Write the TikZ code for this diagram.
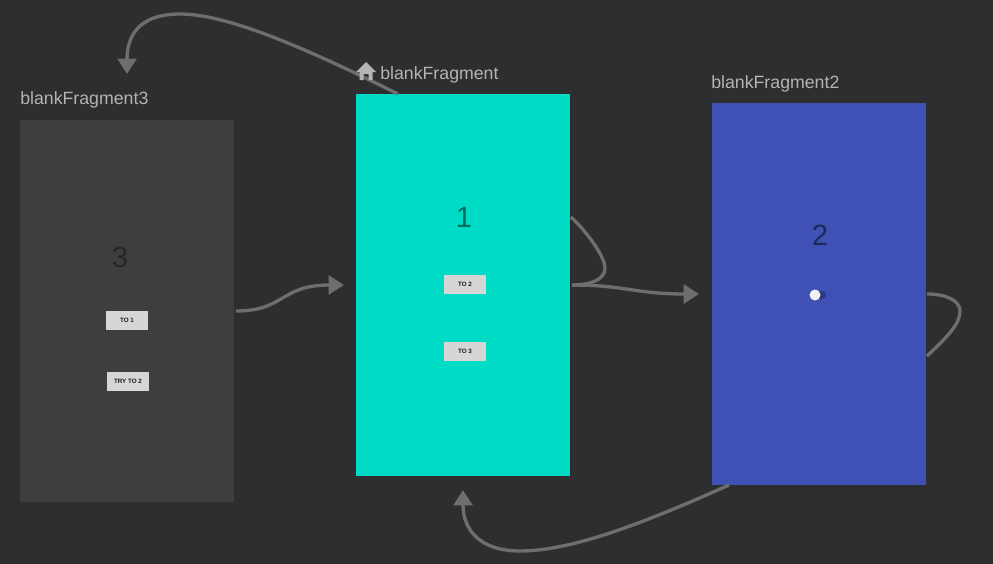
\documentclass[tikz,border=0pt]{standalone}
\usepackage{fontspec}
\setmainfont{Liberation Sans}
\usetikzlibrary{arrows.meta}
\definecolor{bgdark}{HTML}{2D2E30}
\definecolor{linkgray}{HTML}{6E6E6E}
\definecolor{labelgray}{HTML}{B4B4B4}
\definecolor{screenone}{HTML}{00DBC5}
\definecolor{screentwo}{HTML}{3F51B5}
\definecolor{screenthree}{HTML}{3E3E3E}
\tikzset{
  screen/.style={inner sep=0pt,minimum width=160.5pt,minimum height=286.5pt},
  title/.style={inner sep=0pt,anchor=base west,text=labelgray,font=\fontsize{13.3}{13.3}\selectfont},
  digit/.style={inner sep=0pt,font=\fontsize{22}{22}\selectfont},
  btn/.style={inner sep=0pt,minimum width=31.5pt,minimum height=14.25pt,fill=black!16,text=black!90,font=\bfseries\fontsize{4.7}{5}\selectfont},
  link/.style={draw=linkgray,line width=2.5pt},
  linkarrow/.style={link,-{Triangle[length=11.5pt,width=14pt]}}
}
\begin{document}
\begin{tikzpicture}[x=0.75pt,y=-0.75pt]
  \fill[bgdark] (0,0) rectangle (993,564);
  \useasboundingbox (0,0) rectangle (993,564);
  % screens
  \node[screen,fill=screenthree](frag3) at (127,311){};
  \node[screen,fill=screenone](frag1) at (463,285){};
  \node[screen,fill=screentwo](frag2) at (819,294){};
  % free ends
  \coordinate (tip3) at (127,74);
  \coordinate (tip1) at (463,490);
  \coordinate (tip2) at (699,294);
  \coordinate (into1) at (344,285);
  \coordinate (out1top) at (398,94);
  \coordinate (out1a) at (571,217);
  \coordinate (out1b) at (572,285);
  \coordinate (out2a) at (927,294);
  \coordinate (out2b) at (927,356);
  \coordinate (out2c) at (729,485);
  \coordinate (out3) at (236,311);
  % connectors
  \draw[linkarrow] (out1top) .. controls (300,45) and (225,14) .. (180,14)
    .. controls (145,14) and (127,30) .. (tip3);
  \draw[link] (out1a) .. controls (590,235) and (605,258) .. (605,268)
    .. controls (605,280) and (590,285) .. (out1b);
  \draw[linkarrow] (out1b) .. controls (625,285) and (635,294) .. (tip2);
  \draw[linkarrow] (out3) .. controls (285,311) and (280,285) .. (into1);
  \draw[link] (out2a) .. controls (945,294) and (960,300) .. (960,311)
    .. controls (960,325) and (945,339) .. (out2b);
  \draw[linkarrow] (out2c) .. controls (640,525) and (570,551) .. (520,551)
    .. controls (480,551) and (463,530) .. (tip1);
  % titles
  \node[title](title3) at (20,104){blankFragment3};
  \node[title](title1) at (380,79){blankFragment};
  \node[title](title2) at (711,88){blankFragment2};
  \fill[labelgray] (366,62) -- (376,72) -- (372.5,72) -- (372.5,80) -- (368.5,80) -- (368.5,74)
    -- (363.5,74) -- (363.5,80) -- (359.5,80) -- (359.5,72) -- (356,72) -- cycle;
  % screen contents
  \node[digit,text=black!85](num3) at (120,257){3};
  \node[digit,text=screenone!50!black](num1) at (464,217){1};
  \node[digit,text=screentwo!50!black](num2) at (820,235){2};
  \node[btn](to1) at (127,320.5){TO 1};
  \node[btn](try2) at (128,381.5){TRY TO 2};
  \node[btn](to2) at (465,284.5){TO 2};
  \node[btn](to3) at (465,351.5){TO 3};
  \fill[screentwo!70!black,rounded corners=3pt] (815,291) rectangle (826,299);
  \node[circle,fill=white!95!black,inner sep=0pt,minimum size=8.25pt](knob) at (815,295){};
\end{tikzpicture}
\end{document}
